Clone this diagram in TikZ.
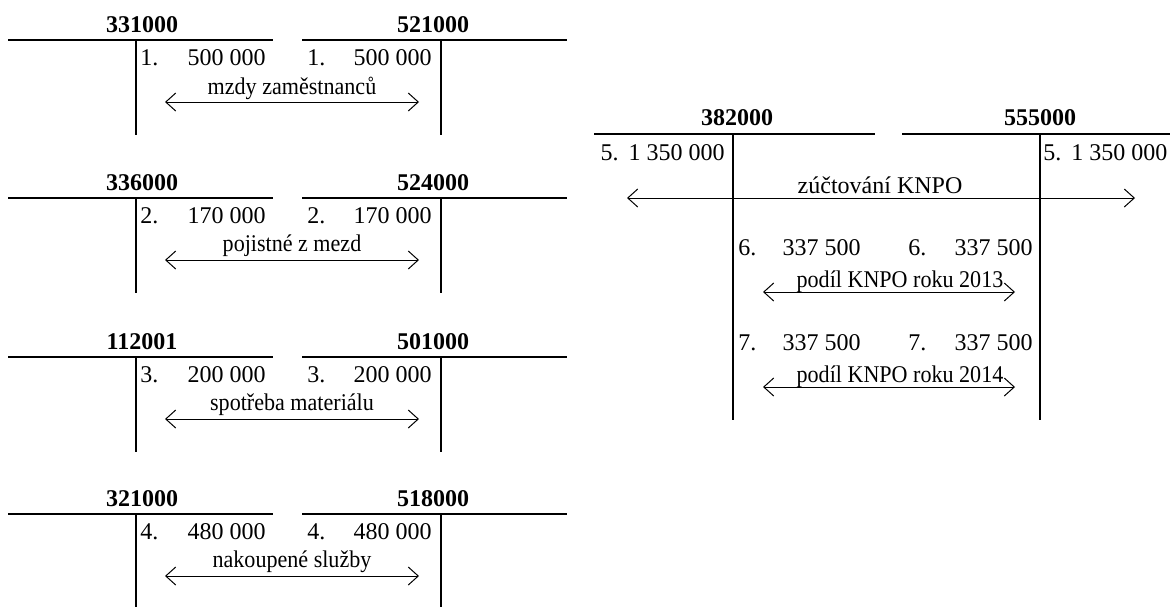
\documentclass[tikz,border=0pt]{standalone}
\usepackage{fontspec}
\setmainfont{Liberation Serif}
\newfontfamily\narrowfont[FakeStretch=0.92]{Liberation Serif}
\usetikzlibrary{arrows.meta}

\newcommand\tsize{\fontsize{12}{14}\selectfont}

\tikzset{
  tline/.style={line width=1pt},
  flow/.style={line width=0.5pt, {Straight Barb[length=5pt,width=9pt]}-{Straight Barb[length=5pt,width=9pt]}},
  acct/.style={font=\tsize\bfseries, inner sep=0pt},
  entry/.style={font=\tsize, inner sep=0pt},
  note/.style={font=\tsize\narrowfont, inner sep=0pt}
}

\begin{document}
\begin{tikzpicture}[x=0.5pt, y=-0.5pt]

\useasboundingbox (0,0) rectangle (1171,606);

% left: four pairs of T-accounts
\foreach \y/\md/\dal/\cis/\castka/\popis [count=\i] in {
   40/331000/521000/1./500 000/mzdy zaměstnanců,
  198/336000/524000/2./170 000/pojistné z mezd,
  357/112001/501000/3./200 000/spotřeba materiálu,
  514/321000/518000/4./480 000/nakoupené služby}
{
  \draw[tline] (8,\y) -- (273,\y);
  \draw[tline] (302,\y) -- (567,\y);
  \draw[tline] (136,\y) -- (136,\y+95);
  \draw[tline] (441,\y) -- (441,\y+95);

  \node[acct] (md\i) at (142,\y-15) {\md};
  \node[acct] (dal\i) at (433,\y-15) {\dal};

  \node[entry, anchor=west] (mc\i) at (140,\y+18) {\cis};
  \node[entry, anchor=east] (mk\i) at (266,\y+18) {\castka};
  \node[entry, anchor=west] (dc\i) at (307,\y+18) {\cis};
  \node[entry, anchor=east] (dk\i) at (432,\y+18) {\castka};

  \node[note] (p\i) at (292,\y+48) {\popis};
  \coordinate (s\i) at (165,\y+62);
  \coordinate (e\i) at (419,\y+62);
  \draw[flow] (s\i) -- (e\i);
}

% right: 382000 / 555000
\draw[tline] (594,134) -- (875,134);
\draw[tline] (902,134) -- (1170,134);
\draw[tline] (733,134) -- (733,420);
\draw[tline] (1040,134) -- (1040,420);

\node[acct] (md5) at (737,118) {382000};
\node[acct] (dal5) at (1040,118) {555000};

\node[entry, anchor=east] (mk5) at (725,153) {5.\hspace{5pt}1 350 000};
\node[entry, anchor=west] (dk5) at (1043,153) {5.\hspace{5pt}1 350 000};

\node[entry] (p5) at (880,185) {zúčtování KNPO};
\coordinate (s5) at (627,198);
\coordinate (e5) at (1135,198);
\draw[flow] (s5) -- (e5);

\foreach \y/\cis/\rok [count=\j from 6] in {248/6./2013, 343/7./2014}
{
  \node[entry, anchor=west] (mc\j) at (738,\y) {\cis};
  \node[entry, anchor=east] (mk\j) at (861,\y) {337 500};
  \node[entry, anchor=west] (dc\j) at (908,\y) {\cis};
  \node[entry, anchor=east] (dk\j) at (1033,\y) {337 500};

  \node[note] (p\j) at (900,\y+34) {podíl KNPO roku \rok};
  \coordinate (s\j) at (763,\y+44);
  \coordinate (e\j) at (1015,\y+44);
  \draw[flow] (s\j) -- (e\j);
}

\end{tikzpicture}
\end{document}
